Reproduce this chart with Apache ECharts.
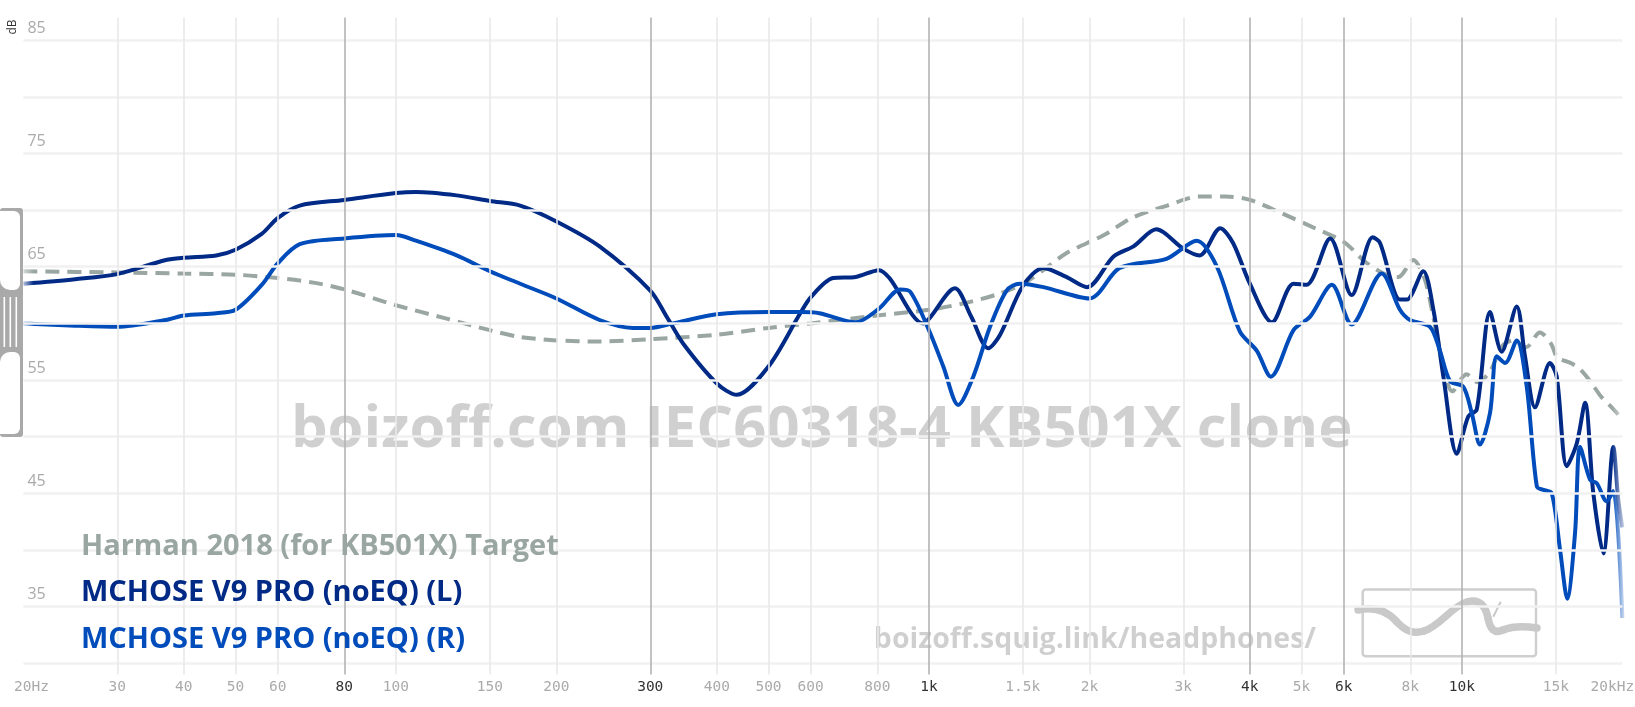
<!DOCTYPE html>
<html><head><meta charset="utf-8">
<script src="https://cdn.jsdelivr.net/npm/echarts@6.0.0/dist/echarts.min.js"></script>
<style>html,body{margin:0;padding:0;background:#fff;}#c{width:1635px;height:707px;}</style>
</head><body><div id="c"></div>
<script>
// ---------- data ----------
const targetFreq = [20,30,40,50,60,70,80,100,125,150,171,200,241,300,400,500,600,800,1000,1170,1350,1500,1650,1810,2130,2400,2800,3220,3600,4000,4600,5300,6000,6600,7200,7600,8100,8500,8800,9100,9600,10200,10700,11300,11900,12500,13200,14000,14700,15100,16000,16700,17400,18200,19000,19700,20000];
const targetDb   = [64.6,64.5,64.4,64.3,64.0,63.6,63.0,61.6,60.4,59.4,58.8,58.5,58.4,58.6,59.0,59.6,60.0,60.7,61.2,61.8,62.6,63.5,64.8,66.2,67.8,69.3,70.4,71.2,71.2,70.9,69.7,68.4,67.2,65.4,64.3,64.1,65.6,64.0,61.0,57.5,54.0,55.5,54.8,55.8,58.0,58.5,57.9,59.2,58.2,57.0,56.5,55.9,54.9,53.6,52.7,51.9,51.5];

const leftFreq = [20,25,30,37,40,46,50,56,60,66,80,100,109,130,150,171,200,241,300,322,346,400,436,500,572,600,661,729,806,843,975,1000,1119,1200,1292,1360,1500,1640,1810,1980,2220,2420,2670,3000,3220,3520,3720,4000,4400,4830,5110,5660,6210,6800,7020,7650,7880,8460,8840,9230,9780,10280,10660,11290,11870,12670,13130,13710,14630,15060,15730,16420,17020,17640,18420,19230,19650,20000];
const leftDb   = [63.5,63.9,64.35,65.6,65.8,66.0,66.5,67.9,69.3,70.4,70.9,71.5,71.6,71.3,70.8,70.4,69.0,66.8,62.9,60.6,58.2,54.7,53.7,56.2,60.8,62.3,64.0,64.1,64.7,64.0,60.0,60.4,63.1,60.6,57.8,59.0,63.3,64.9,64.1,63.2,65.9,66.8,68.3,66.6,66.0,68.4,67.1,63.5,60.1,63.5,63.4,67.5,62.5,67.6,67.1,62.1,62.1,64.6,61.2,55.3,48.5,51.8,52.4,61.0,57.5,61.5,57.1,52.6,56.5,55.3,47.4,49.4,53.0,45.0,39.7,49.1,44.4,42.0];

const rightFreq = [20,25,30,37,40,46,50,56,60,66,80,100,109,130,150,171,200,241,278,300,331,400,500,572,623,729,806,883,922,1000,1064,1135,1211,1302,1399,1480,1640,2000,2280,2790,3180,3470,3830,4120,4380,4830,5190,5700,6210,7070,7650,7990,8710,9090,9500,10060,10430,10810,11290,11620,12050,12670,13230,13820,14220,14740,15280,15760,16300,16660,17390,17900,18690,19230,20000];
const rightDb   = [60.0,59.8,59.7,60.3,60.7,60.9,61.2,63.4,65.3,67.0,67.5,67.8,67.3,66.0,64.6,63.5,62.2,60.3,59.6,59.6,60.0,60.8,61.0,61.0,60.9,60.1,61.3,63.0,62.8,59.4,56.2,52.8,55.3,59.7,62.9,63.5,63.2,62.2,64.9,65.7,67.3,65.0,59.3,57.6,55.3,59.4,60.6,63.4,59.9,64.4,61.2,60.3,59.7,57.6,54.9,54.4,52.1,49.3,52.1,57.1,56.5,58.5,54.4,45.6,45.3,45.0,40.0,35.7,41.5,49.1,46.2,45.9,44.3,45.2,34.0];

const tickFreqs  = [20,30,40,50,60,80,100,150,200,300,400,500,600,800,1000,1500,2000,3000,4000,5000,6000,8000,10000,15000,20000];
const tickLabels = ['20Hz','30','40','50','60','80','100','150','200','300','400','500','600','800','1k','1.5k','2k','3k','4k','5k','6k','8k','10k','15k','20kHz'];
const majorFreqs = [80,300,1000,4000,6000,10000];
const dbGrid     = [30,35,40,45,50,55,60,65,70,75,80,85];
const dbLabeled  = [35,45,55,65,75,85];

const seriesNames = ['Harman 2018 (for KB501X) Target','MCHOSE V9 PRO (noEQ) (L)','MCHOSE V9 PRO (noEQ) (R)'];
const watermark = 'boizoff.com IEC60318-4 KB501X clone';
const siteUrl = 'boizoff.squig.link/headphones/';

// ---------- styles ----------
const C_T = [154,166,162], C_L = [0,42,134], C_R = [0,76,187];
const rgb = c => `rgb(${c[0]},${c[1]},${c[2]})`;
function fade(c, a0){
  return new echarts.graphic.LinearGradient(0,0,1,0,[
    {offset:0,color:`rgba(${c[0]},${c[1]},${c[2]},${a0})`},
    {offset:0.008,color:rgb(c)},
    {offset:0.992,color:rgb(c)},
    {offset:1,color:`rgba(${c[0]},${c[1]},${c[2]},${a0})`}]);
}
const pairs = (f,d) => f.map((x,i)=>[x,d[i]]);
const OS = '"Open Sans", sans-serif';

const vLines = tickFreqs.map((f,i)=>{
  const edge = (i===0 || i===tickFreqs.length-1);
  const major = majorFreqs.includes(f);
  return {
    xAxis: f,
    lineStyle: {color: edge ? 'rgba(0,0,0,0)' : (major ? '#b3b3b3' : '#e9e9e9'), width: 1.6, type:'solid'},
    label: {show:true, position:'start', formatter: tickLabels[i], distance: 5,
      offset: i===0 ? [8,0] : (i===tickFreqs.length-1 ? [-10,0] : [0,0]),
      color: major ? '#333' : '#aaa', fontFamily:'"DejaVu Sans Mono", monospace', fontSize:14.5}
  };
});
const hLines = dbGrid.map(v=>({
  yAxis: v,
  lineStyle:{color:'#f1f1f1', width:2.5, type:'solid'},
  label:{show: dbLabeled.includes(v), position:'insideStartTop', formatter: String(v), distance: 4,
    color:'#aaa', fontFamily: OS, fontSize:16}
}));

const logoCurve = [
  [1358,610,1372,607,1386,610,1396,621],
  [1396,621,1406,632,1414,634,1424,631],
  [1424,631,1440,626,1452,606,1467,602],
  [1467,602,1481,598,1486,608,1488,618],
  [1488,618,1490,629,1494,634,1503,630],
  [1503,630,1513,626,1524,626,1537,628]
].map(p=>({type:'bezierCurve', z:1, silent:true,
  shape:{x1:p[0],y1:p[1],cpx1:p[2],cpy1:p[3],cpx2:p[4],cpy2:p[5],x2:p[6],y2:p[7]},
  style:{fill:null, stroke:'#c9c9c9', lineWidth:7.5, lineCap:'round'}}));

const chart = echarts.init(document.getElementById('c'));
chart.setOption({
  animation:false,
  backgroundColor:'#fff',
  grid:{left:23.4, right:12.6, top:17.5, bottom:32.4},
  xAxis:{type:'log', logBase:10, min:20, max:20000, axisLine:{show:false}, axisTick:{show:false}, axisLabel:{show:false}, splitLine:{show:false}, minorSplitLine:{show:false}},
  yAxis:{type:'value', min:29, max:87, axisLine:{show:false}, axisTick:{show:false}, axisLabel:{show:false}, splitLine:{show:false}},
  graphic:[
    {type:'text', z:1, silent:true, style:{x:821.7, y:430, text:watermark, font:'bold 58px '+OS, fill:'rgba(0,0,0,0.185)', align:'center', verticalAlign:'middle'}},
    {type:'text', z:1, silent:true, style:{x:1095, y:640, text:siteUrl, font:'bold 28.5px '+OS, fill:'rgba(0,0,0,0.19)', align:'center', verticalAlign:'middle'}},
    {type:'rect', z:1, silent:true, shape:{x:1362.7, y:589.5, width:173.3, height:66.7, r:3}, style:{fill:null, stroke:'#cfcfcf', lineWidth:2.5}},
    ...logoCurve,
    {type:'line', z:1, silent:true, shape:{x1:1493.3, y1:616.7, x2:1500.7, y2:601.7}, style:{stroke:'#c9c9c9', lineWidth:2}},
    {type:'text', z:10, silent:true, style:{x:81, y:547, text:seriesNames[0], font:'bold 29px '+OS, fill:rgb(C_T), align:'left', verticalAlign:'middle'}},
    {type:'text', z:10, silent:true, style:{x:81, y:593, text:seriesNames[1], font:'bold 29px '+OS, fill:rgb(C_L), align:'left', verticalAlign:'middle'}},
    {type:'text', z:10, silent:true, style:{x:81, y:639.5, text:seriesNames[2], font:'bold 29px '+OS, fill:rgb(C_R), align:'left', verticalAlign:'middle'}},
    {type:'text', z:10, silent:true, rotation:Math.PI/2, x:13, y:27, style:{x:0, y:0, text:'dB', font:'12px '+OS, fill:'#333', align:'center', verticalAlign:'middle'}},
    // left handle
    {type:'rect', z:10, silent:true, shape:{x:0, y:208, width:23, height:229, r:[3,3,3,3]}, style:{fill:'#a9a9a9'}},
    {type:'rect', z:11, silent:true, shape:{x:0, y:211, width:20, height:79, r:[0,6,6,10]}, style:{fill:'#fff'}},
    {type:'rect', z:11, silent:true, shape:{x:0, y:352, width:20, height:82, r:[10,6,6,0]}, style:{fill:'#fff'}},
    {type:'rect', z:11, silent:true, shape:{x:3.5, y:297, width:1.6, height:50}, style:{fill:'#fff'}},
    {type:'rect', z:11, silent:true, shape:{x:9.5, y:297, width:1.6, height:50}, style:{fill:'#fff'}},
    {type:'rect', z:11, silent:true, shape:{x:15.5, y:297, width:1.6, height:50}, style:{fill:'#fff'}}
  ],
  series:[
    {type:'line', name:'grid', data:[], silent:true, z:0,
      markLine:{silent:true, symbol:['none','none'], animation:false, data: hLines.concat(vLines)}},
    {type:'line', name:seriesNames[0], data:pairs(targetFreq,targetDb), smooth:0.3, showSymbol:false, silent:true, z:2,
      lineStyle:{color:fade(C_T,0.3), width:4, type:[14,8], cap:'butt'}},
    {type:'line', name:seriesNames[1], data:pairs(leftFreq,leftDb), smooth:0.3, showSymbol:false, silent:true, z:3,
      lineStyle:{color:fade(C_L,0.15), width:4}},
    {type:'line', name:seriesNames[2], data:pairs(rightFreq,rightDb), smooth:0.3, showSymbol:false, silent:true, z:4,
      lineStyle:{color:fade(C_R,0.15), width:4}}
  ]
});
</script>
</body></html>
